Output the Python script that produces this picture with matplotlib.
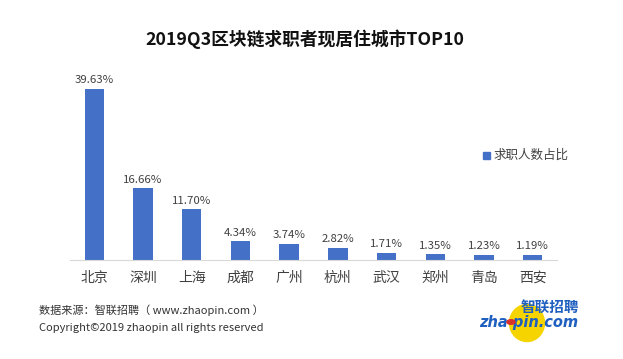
import matplotlib
matplotlib.use("Agg")
import matplotlib.pyplot as plt
from matplotlib.patches import Ellipse, Circle, Rectangle

plt.rcParams['font.family'] = ['Noto Sans CJK SC', 'DejaVu Sans']

cities = ['北京', '深圳', '上海', '成都', '广州', '杭州', '武汉', '郑州', '青岛', '西安']
shares = [39.63, 16.66, 11.70, 4.34, 3.74, 2.82, 1.71, 1.35, 1.23, 1.19]
labels = ['39.63%', '16.66%', '11.70%', '4.34%', '3.74%', '2.82%', '1.71%', '1.35%', '1.23%', '1.19%']
series_name = '求职人数占比'
title = '2019Q3区块链求职者现居住城市TOP10'

W, H = 623, 359
fig = plt.figure(figsize=(W / 100, H / 100), dpi=100)
fig.patch.set_facecolor('white')

ax = fig.add_axes([70 / W, (H - 260) / H, 487 / W, 190 / H])
bar_color = '#4470C8'
x = list(range(len(cities)))
ax.bar(x, shares, width=0.4, color=bar_color, label=series_name)
ax.set_xlim(-0.5, len(cities) - 0.5)
ax.set_ylim(0, 44.0)
for xi, v, lab in zip(x, shares, labels):
    ax.annotate(lab, (xi, v), xytext=(0, 2.5), textcoords='offset points',
                ha='center', va='bottom', fontsize=8.2, color='#404040', annotation_clip=False)

for s in ['top', 'right', 'left']:
    ax.spines[s].set_visible(False)
ax.spines['bottom'].set_color('#d9d9d9')
ax.set_yticks([])
ax.set_xticks(x)
ax.set_xticklabels(cities, fontsize=10, color='#404040')
ax.tick_params(axis='x', length=0, pad=8)

# legend
fig.patches.append(Rectangle((483 / W, (H - 159) / H), 7 / W, 7 / H,
                             transform=fig.transFigure, color=bar_color))
fig.text(493 / W, (H - 155.5) / H, series_name, fontsize=9, color='#404040', va='center', ha='left')

# title
fig.text(305 / W, (H - 39) / H, title, fontsize=12.8, fontweight='bold', color='#111111',
         ha='center', va='center')

# footer
fig.text(39 / W, (H - 310) / H, '数据来源：智联招聘（ www.zhaopin.com ）', fontsize=8,
         color='#333333', ha='left', va='center')
fig.text(39 / W, (H - 328) / H, 'Copyright©2019 zhaopin all rights reserved', fontsize=8,
         color='#333333', ha='left', va='center')

# logo
fig.patches.append(Ellipse((527 / W, (H - 323) / H), 35 / W, 37 / H,
                           transform=fig.transFigure, color='#F5D400', zorder=1))
fig.text(550 / W, (H - 307) / H, '智联招聘', fontsize=10.5, fontweight='bold', fontstyle='italic',
         color='#1F5FBF', ha='center', va='center', zorder=3)
fig.text(529 / W, (H - 322) / H, 'zha pin.com', fontsize=10.5, fontweight='bold', fontstyle='italic',
         color='#1F5FBF', ha='center', va='center', family=['DejaVu Sans'], zorder=3)
fig.patches.append(Circle((511 / W, (H - 322) / H), 4 / W,
                          transform=fig.transFigure, color='#D8302A', zorder=4))

fig.savefig('out.png', dpi=100, facecolor='white')
